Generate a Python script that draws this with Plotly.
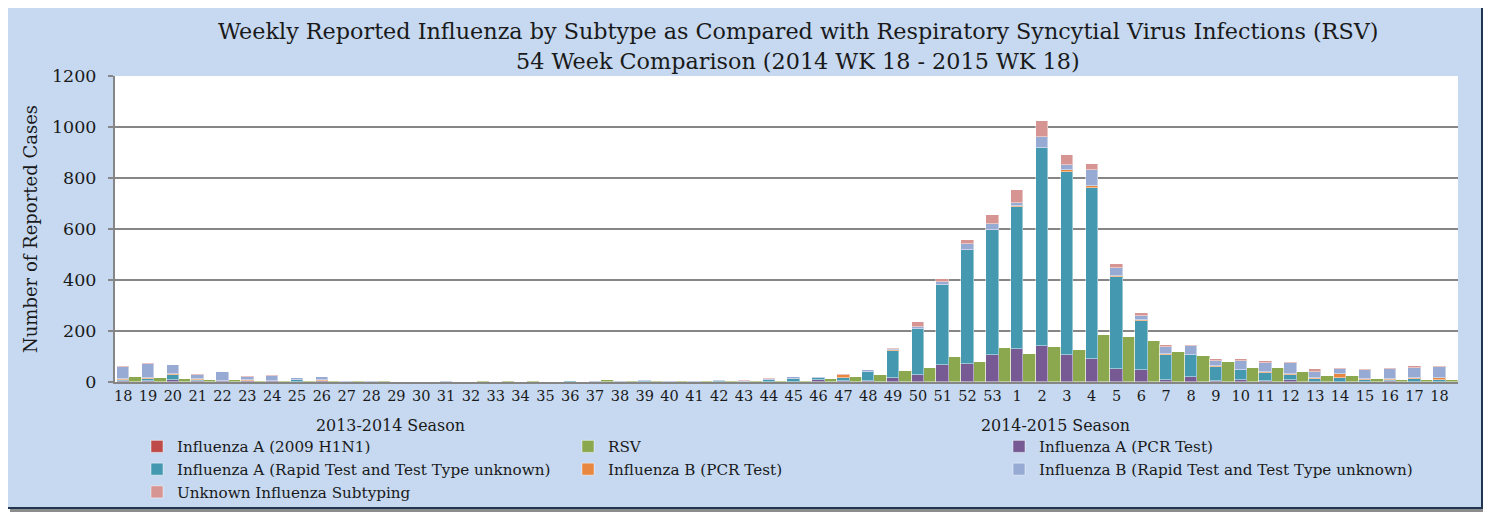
import numpy as np
import plotly.graph_objects as go

weeks = [str(w) for w in list(range(18, 54)) + list(range(1, 19))]

flu_a_h1n1 = [0] * 54
rsv = [18, 14, 12, 9, 8, 5, 5, 5, 3, 4, 2, 1, 1, 1, 3, 2, 2, 1, 1, 7, 3, 2, 2, 3, 2, 3, 2, 3,
       12, 18, 29, 43, 55, 97, 77, 132, 108, 139, 127, 183, 176, 162, 119, 103, 77, 56, 54, 39,
       22, 22, 12, 9, 8, 6]
flu_a_pcr = [3, 4, 8, 3, 2, 3, 2, 1, 2, 0, 1, 0, 0, 0, 0, 0, 0, 0, 0, 0, 0, 0, 1, 0, 0, 0, 1, 1,
             7, 2, 3, 17, 29, 68, 72, 107, 131, 140, 107, 91, 51, 46, 9, 20, 5, 8, 4, 8,
             1, 1, 1, 3, 1, 1]
flu_a_rapid = [4, 8, 20, 5, 3, 2, 2, 7, 2, 1, 0, 0, 0, 0, 0, 0, 0, 0, 4, 0, 0, 3, 0, 0, 2, 0, 6, 10,
               10, 15, 38, 105, 179, 312, 447, 490, 555, 778, 716, 671, 361, 192, 98, 86, 54, 39, 30, 19,
               11, 16, 7, 5, 11, 7]
flu_b_pcr = [5, 2, 2, 2, 0, 1, 1, 0, 3, 0, 0, 0, 0, 0, 0, 0, 0, 0, 0, 0, 0, 0, 0, 0, 0, 0, 0, 0,
             0, 9, 0, 3, 0, 0, 0, 0, 5, 0, 7, 5, 4, 4, 4, 0, 4, 0, 5, 6,
             5, 13, 5, 5, 4, 8]
flu_b_rapid = [46, 57, 36, 18, 33, 15, 19, 6, 11, 2, 1, 0, 0, 3, 0, 1, 0, 0, 1, 3, 2, 6, 1, 3, 6, 2, 3, 9,
               3, 0, 7, 4, 6, 12, 22, 24, 12, 41, 22, 66, 32, 18, 28, 35, 21, 34, 36, 43,
               24, 21, 34, 38, 40, 41]
unknown = [3, 2, 1, 2, 1, 4, 2, 0, 3, 2, 3, 0, 0, 0, 0, 0, 0, 0, 0, 0, 0, 0, 0, 0, 1, 4, 4, 1,
           0, 4, 0, 5, 20, 12, 14, 34, 50, 63, 37, 20, 16, 11, 7, 5, 8, 8, 7, 1,
           10, 3, 5, 3, 5, 4]

season_labels = ["2013-2014 Season", "2014-2015 Season"]
title_lines = ["Weekly Reported Influenza by Subtype as Compared with Respiratory Syncytial Virus Infections (RSV)",
               "54 Week Comparison (2014 WK 18 - 2015 WK 18)"]

# page has an 8px body margin; figure is sized/positioned to compensate
OFF = 8
W, H = 1491 - OFF, 514 - OFF
PLOT_L, PLOT_R, PLOT_T, PLOT_B = 115, 1458, 76, 382   # target page pixels
ML, MR, MT, MB = PLOT_L - OFF, W - (PLOT_R - OFF), PLOT_T - OFF, H - (PLOT_B - OFF)
PW, PH = W - ML - MR, H - MT - MB


def px(x):
    return (x - OFF - ML) / PW


def py(y):
    return (H - MB - (y - OFF)) / PH


pos = np.arange(len(weeks))
FONT = "DejaVu Serif"
TXT = "#1A1A1A"

fig = go.Figure()
series = [
    ("Influenza A (2009 H1N1)", flu_a_h1n1, "#BE4B48", False),
    ("RSV", rsv, "#8BA84E", True),
    ("Influenza A (PCR Test)", flu_a_pcr, "#775A93", False),
    ("Influenza A (Rapid Test and Test Type unknown)", flu_a_rapid, "#4498B0", False),
    ("Influenza B (PCR Test)", flu_b_pcr, "#E8873F", False),
    ("Influenza B (Rapid Test and Test Type unknown)", flu_b_rapid, "#97AAD3", False),
    ("Unknown Influenza Subtyping", unknown, "#D69492", False),
]
for name, vals, color, is_rsv in series:
    fig.add_trace(go.Bar(
        name=name,
        x=pos + 0.5 if is_rsv else pos,
        y=vals,
        width=0.5,
        marker=dict(color=color, line=dict(color="rgba(255,255,255,0.45)", width=1)),
    ))

shapes = [
    dict(type="rect", xref="paper", yref="paper", layer="below",
         x0=px(10), x1=px(1487), y0=py(512), y1=py(10), fillcolor="#8C8C8C", line=dict(width=0)),
    dict(type="rect", xref="paper", yref="paper", layer="below",
         x0=px(7), x1=px(1482), y0=py(508), y1=py(7), fillcolor="#C6D9F1",
         line=dict(color="#1F3550", width=2)),
    dict(type="rect", xref="paper", yref="paper", layer="below",
         x0=0, x1=1, y0=0, y1=1, fillcolor="white", line=dict(width=0)),
]


def ann(text, x, y, size):
    return dict(text=text, xref="paper", yref="paper", x=px(x), y=py(y),
                xanchor="center", yanchor="middle", showarrow=False,
                font=dict(family=FONT, size=size, color=TXT))


annotations = [
    ann(title_lines[0], 798, 31, 22.3),
    ann(title_lines[1], 798, 61, 22.3),
    ann(season_labels[0], 390, 425, 15.9),
    ann(season_labels[1], 1055, 425, 15.9),
]

fig.update_layout(
    width=W, height=H,
    margin=dict(l=ML, r=MR, t=MT, b=MB, pad=0, autoexpand=False),
    paper_bgcolor="white",
    plot_bgcolor="rgba(0,0,0,0)",
    barmode="stack",
    bargap=0,
    shapes=shapes,
    annotations=annotations,
    font=dict(family=FONT, color=TXT),
    legend=dict(orientation="h", x=px(137), y=py(430), xanchor="left", yanchor="top",
                entrywidth=386, entrywidthmode="pixels", traceorder="normal",
                font=dict(family=FONT, size=15.2, color=TXT),
                bgcolor="rgba(0,0,0,0)", tracegroupgap=0, itemwidth=30),
    xaxis=dict(range=[-0.33, 53.75], tickmode="array", tickvals=pos, ticktext=weeks,
               showgrid=False, showline=True, linecolor="#868686", linewidth=2,
               ticks="", tickfont=dict(family=FONT, size=14.5, color=TXT), zeroline=False),
    yaxis=dict(range=[0, 1200], tickmode="array", tickvals=list(range(0, 1201, 200)),
               showgrid=True, gridcolor="#868686", gridwidth=2, showline=True,
               linecolor="#868686", linewidth=2, ticks="outside", ticklen=5, tickcolor="#868686",
               tickwidth=2, zeroline=False, ticklabelstandoff=8,
               tickfont=dict(family=FONT, size=17.5, color=TXT),
               title=dict(text="Number of Reported Cases", standoff=10,
                          font=dict(family=FONT, size=18, color=TXT))),
)

fig.write_html("out.html")
